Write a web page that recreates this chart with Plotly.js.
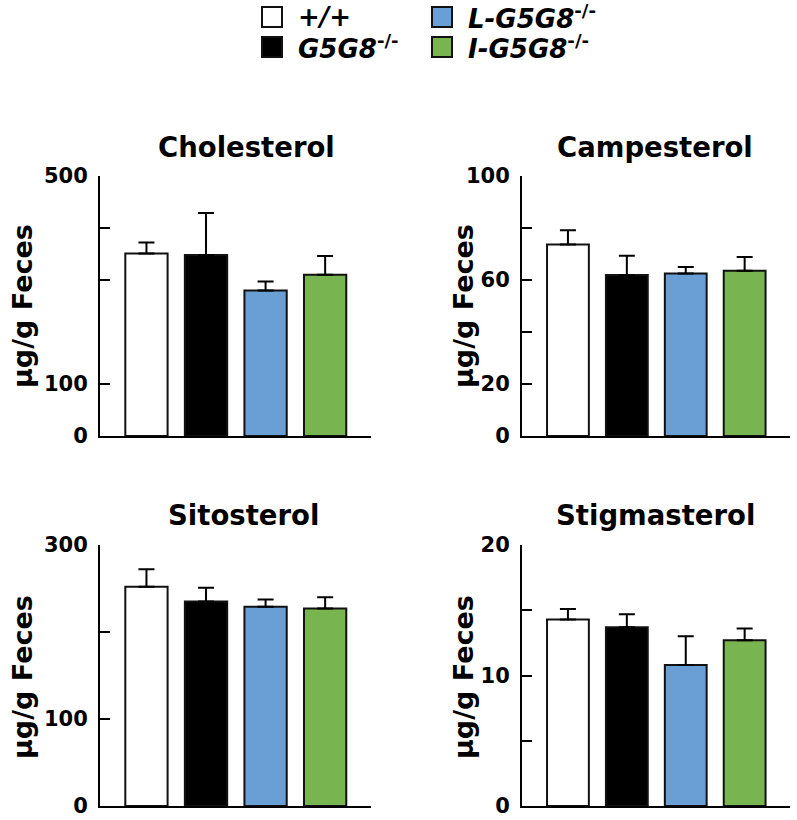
<!DOCTYPE html>
<html>
<head>
<meta charset="utf-8">
<script src="https://cdn.plot.ly/plotly-3.0.1.min.js"></script>
<style>html,body{margin:0;padding:0;background:#fff;}#chart{width:797px;height:820px;}</style>
</head>
<body>
<div id="chart"></div>
<script>
// ---- data ----
const groups = ['+/+', 'G5G8-/-', 'L-G5G8-/-', 'I-G5G8-/-'];
const groupLabels = ['<b><i>+/+</i></b>', '<b><i>G5G8</i><sup>-/-</sup></b>', '<b><i>L-G5G8</i><sup>-/-</sup></b>', '<b><i>I-G5G8</i><sup>-/-</sup></b>'];
const groupColors = ['#ffffff', '#000000', '#6a9fd6', '#78b44f'];

const panelTitles = ['Cholesterol', 'Campesterol', 'Sitosterol', 'Stigmasterol'];
const yAxisTitle = 'μg/g Feces';

const cholesterolMean = [351, 348, 280, 310];
const cholesterolSE   = [21, 81, 17, 36];
const campesterolMean = [73.7, 61.9, 62.5, 63.6];
const campesterolSE   = [5.4, 7.4, 2.5, 5.2];
const sitosterolMean  = [252, 235, 229, 227];
const sitosterolSE    = [20, 16, 8.5, 13];
const stigmasterolMean = [14.3, 13.7, 10.8, 12.7];
const stigmasterolSE   = [0.8, 1.0, 2.2, 0.9];

// labelled ticks and unlabelled (minor) ticks
const cholesterolTicks = [0, 100, 500];
const cholesterolMinor = [300, 400];
const campesterolTicks = [0, 20, 60, 100];
const campesterolMinor = [40, 80];
const sitosterolTicks = [0, 100, 300];
const sitosterolMinor = [200];
const stigmasterolTicks = [0, 10, 20];
const stigmasterolMinor = [5, 15];

// ---- build ----
const W = 797, H = 820;
const px = v => v / W;
const py = v => 1 - v / H;
const FONT = 'DejaVu Sans, Arial, sans-serif';

const panels = [
  {mean: cholesterolMean, se: cholesterolSE, ticks: cholesterolTicks, minor: cholesterolMinor, max: 500},
  {mean: campesterolMean, se: campesterolSE, ticks: campesterolTicks, minor: campesterolMinor, max: 100},
  {mean: sitosterolMean, se: sitosterolSE, ticks: sitosterolTicks, minor: sitosterolMinor, max: 300},
  {mean: stigmasterolMean, se: stigmasterolSE, ticks: stigmasterolTicks, minor: stigmasterolMinor, max: 20}
];

const xDomains = [[px(100), px(371)], [px(522), px(790)]];
const yDomains = [[py(436), py(176)], [py(806), py(545)]];

const traces = [];
const layout = {
  width: W, height: H,
  margin: {l: 0, r: 0, t: 0, b: 0},
  paper_bgcolor: '#fff', plot_bgcolor: 'rgba(0,0,0,0)',
  showlegend: false,
  bargap: 0.29,
  font: {family: FONT, color: '#000'},
  annotations: [], shapes: []
};

panels.forEach((p, i) => {
  const col = i % 2, row = Math.floor(i / 2);
  const sfx = i === 0 ? '' : String(i + 1);
  traces.push({
    type: 'bar',
    x: groups, y: p.mean,
    xaxis: 'x' + sfx, yaxis: 'y' + sfx,
    marker: {color: groupColors, line: {color: '#111', width: 2}},
    error_y: {type: 'data', symmetric: false, array: p.se, arrayminus: p.se.map(() => 0),
              color: '#000', thickness: 2, width: 8},
    hoverinfo: 'x+y'
  });
  layout['xaxis' + sfx] = {
    domain: xDomains[col], anchor: 'y' + sfx,
    type: 'category', range: [-0.78, 3.77],
    showticklabels: false, ticks: '', showgrid: false, zeroline: false,
    showline: true, linecolor: '#000', linewidth: 2
  };
  layout['yaxis' + sfx] = {
    domain: yDomains[row], anchor: 'x' + sfx,
    range: [0, p.max], tickmode: 'array', tickvals: p.ticks,
    ticks: 'inside', ticklen: 10, tickwidth: 2, tickcolor: '#000',
    minor: {tickmode: 'array', tickvals: p.minor, ticks: 'inside', ticklen: 10, tickwidth: 2, tickcolor: '#000', showgrid: false},
    showgrid: false, zeroline: false, showline: true, linecolor: '#000', linewidth: 2,
    tickfont: {family: FONT, size: 21, weight: 'bold', color: '#000'},
    ticklabelstandoff: 6
  };
});

// panel titles
const titlePos = [[246, 147], [655, 147], [243, 515], [655, 515]];
panelTitles.forEach((t, i) => {
  layout.annotations.push({
    text: t, xref: 'paper', yref: 'paper', x: px(titlePos[i][0]), y: py(titlePos[i][1]),
    xanchor: 'center', yanchor: 'middle', showarrow: false,
    font: {family: FONT, size: 27.5, weight: 'bold', color: '#000'}
  });
});
// y-axis titles
const yTitlePos = [[22, 306], [463, 306], [22, 677], [463, 677]];
yTitlePos.forEach(pos => {
  layout.annotations.push({
    text: yAxisTitle, xref: 'paper', yref: 'paper', x: px(pos[0]), y: py(pos[1]),
    xanchor: 'center', yanchor: 'middle', showarrow: false, textangle: -90,
    font: {family: FONT, size: 27, weight: 'bold', color: '#000'}
  });
});

// legend (keys + labels)
const legendKeyPos = [[262, 7], [262, 37], [432, 7], [432, 37]];
groups.forEach((g, i) => {
  const [kx, ky] = legendKeyPos[i];
  layout.shapes.push({
    type: 'rect', xref: 'paper', yref: 'paper',
    x0: px(kx), x1: px(kx + 20), y0: py(ky + 20), y1: py(ky),
    fillcolor: groupColors[i], line: {color: '#111', width: 2}
  });
  layout.annotations.push({
    text: groupLabels[i], xref: 'paper', yref: 'paper',
    x: px(kx + 34), y: py(ky + 10), xanchor: 'left', yanchor: 'middle', showarrow: false,
    font: {family: FONT, size: 26, color: '#000'}
  });
});

Plotly.newPlot('chart', traces, layout, {displayModeBar: false, staticPlot: true});
</script>
</body>
</html>
